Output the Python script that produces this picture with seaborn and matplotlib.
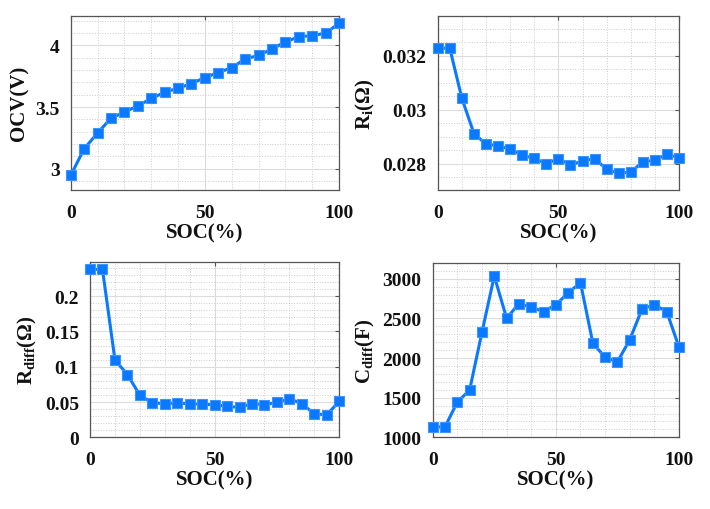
import numpy as np
import pandas as pd
import matplotlib
matplotlib.use('Agg')
import matplotlib.pyplot as plt
import seaborn as sns
from matplotlib.ticker import MultipleLocator, FormatStrFormatter

# SOC points (%)
soc = [0, 5, 10, 15, 20, 25, 30, 35, 40, 45, 50, 55, 60, 65, 70, 75, 80, 85, 90, 95, 100]

ocv = [2.946, 3.162, 3.29, 3.41, 3.46, 3.51, 3.57, 3.62, 3.654, 3.69, 3.74,
       3.78, 3.82, 3.89, 3.92, 3.97, 4.03, 4.07, 4.08, 4.10, 4.18]
r_i = [0.03228, 0.03228, 0.03043, 0.02912, 0.02873, 0.02867, 0.02854, 0.02832,
       0.0282, 0.0280, 0.02819, 0.02795, 0.02811, 0.02819, 0.0278, 0.02765,
       0.0277, 0.02807, 0.02814, 0.02835, 0.02822]
r_diff = [0.238, 0.238, 0.1095, 0.089, 0.0595, 0.049, 0.0476, 0.0486, 0.0476,
          0.0467, 0.0462, 0.0438, 0.0424, 0.0476, 0.0462, 0.0495, 0.0548,
          0.0476, 0.0333, 0.0319, 0.051]
c_diff = [1131, 1131, 1444, 1596, 2324, 3035, 2502, 2684, 2641, 2586, 2671,
          2823, 2950, 2189, 2007, 1952, 2231, 2620, 2671, 2586, 2134]

df = pd.DataFrame({'SOC': soc, 'OCV': ocv, 'Ri': r_i, 'Rdiff': r_diff, 'Cdiff': c_diff})

sns.set_style("white")
plt.rcParams['font.family'] = ['Liberation Serif', 'DejaVu Serif']
plt.rcParams['font.weight'] = 'bold'
plt.rcParams['text.color'] = '#111111'
plt.rcParams['axes.labelcolor'] = '#111111'
plt.rcParams['xtick.labelcolor'] = '#111111'
plt.rcParams['ytick.labelcolor'] = '#111111'
plt.rcParams['mathtext.fontset'] = 'custom'
plt.rcParams['mathtext.rm'] = 'Liberation Serif:bold'
plt.rcParams['mathtext.bf'] = 'Liberation Serif:bold'
plt.rcParams['mathtext.it'] = 'Liberation Serif:bold'
plt.rcParams['mathtext.default'] = 'bf'

blue = '#0a78ff'

fig = plt.figure(figsize=(7.1, 5.1), dpi=100)

panels = [
    # col, ylabel, rect, ylim, major, minor
    ('OCV', 'OCV(V)', [0.0996, 0.626, 0.378, 0.341], (2.83, 4.24), 0.5, 0.1),
    ('Ri', r'R$_{i}$(Ω)', [0.6165, 0.626, 0.340, 0.341], (0.02704, 0.03348), 0.002, 0.0005),
    ('Rdiff', r'R$_{diff}$(Ω)', [0.1268, 0.1406, 0.351, 0.343], (0, 0.248), 0.05, 0.01),
    ('Cdiff', r'C$_{diff}$(F)', [0.6094, 0.1406, 0.347, 0.342], (1000, 3200), 500, 100),
]

for col, ylab, rect, ylim, major, minor in panels:
    ax = fig.add_axes(rect)
    sns.lineplot(data=df, x='SOC', y=col, ax=ax, color=blue, linewidth=2.2,
                 marker='s', markersize=6.5, markeredgecolor='#3d95ff',
                 markeredgewidth=0.8, clip_on=False, zorder=5)
    ax.set_xlim(0, 100)
    ax.set_ylim(*ylim)
    ax.xaxis.set_major_locator(MultipleLocator(50))
    ax.xaxis.set_minor_locator(MultipleLocator(10))
    ax.yaxis.set_major_locator(MultipleLocator(major))
    ax.yaxis.set_minor_locator(MultipleLocator(minor))
    ax.yaxis.set_major_formatter(FormatStrFormatter('%g'))
    ax.xaxis.set_major_formatter(FormatStrFormatter('%g'))
    ax.grid(which='major', color='#dcdcdc', linewidth=0.8)
    ax.grid(which='minor', color='#cccccc', linestyle=':', linewidth=0.7)
    ax.tick_params(which='both', direction='in', top=True, right=True,
                   length=3, color='#555555', labelsize=14, pad=8)
    ax.tick_params(axis='x', pad=10)
    ax.tick_params(which='minor', length=0)
    for s in ax.spines.values():
        s.set_color('#555555')
        s.set_linewidth(0.9)
    ax.set_xlabel('SOC(%)', fontsize=15, fontweight='bold', labelpad=1)
    ax.set_ylabel(ylab, fontsize=15, fontweight='bold', labelpad=4)
    for lab in ax.get_xticklabels() + ax.get_yticklabels():
        lab.set_fontweight('bold')

fig.savefig('out.png', dpi=100)
